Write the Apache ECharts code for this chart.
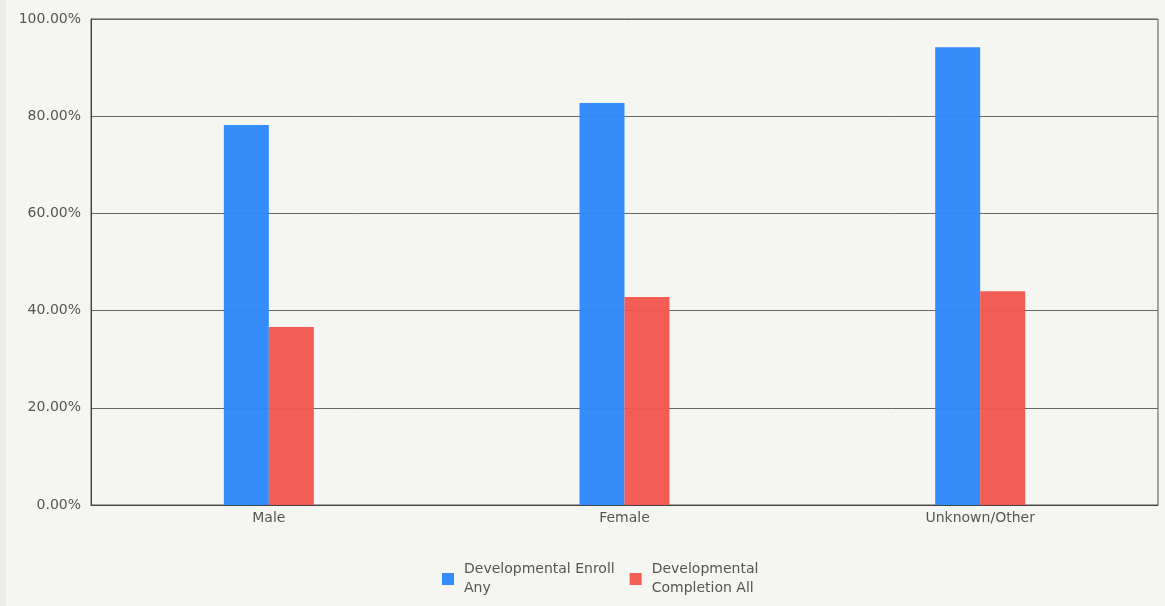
<!DOCTYPE html>
<html>
<head>
<meta charset="utf-8">
<script src="https://cdn.jsdelivr.net/npm/echarts@6/dist/echarts.min.js"></script>
<style>
html,body{margin:0;padding:0;background:#ebebeb;width:1165px;height:606px;overflow:hidden;}
#c{position:absolute;left:6px;top:0;width:1159px;height:606px;background:#f5f5f1;}
</style>
</head>
<body>
<div id="c"></div>
<script>
const categories = ['Male', 'Female', 'Unknown/Other'];
const enrollAny = [78.2, 82.7, 94.2];
const completionAll = [36.6, 42.8, 44.0];
const seriesNames = ['Developmental Enroll\nAny', 'Developmental\nCompletion All'];

const chart = echarts.init(document.getElementById('c'));
const font = '"DejaVu Sans", sans-serif';
chart.setOption({
  backgroundColor: '#f5f5f1',
  animation: false,
  grid: {left: 85, right: 7, top: 19, bottom: 101, show: true, borderColor: '#555', borderWidth: 1, backgroundColor: 'transparent'},
  legend: {
    left: 431, top: 555, itemWidth: 12, itemHeight: 12, itemGap: 15, icon: 'rect',
    textStyle: {fontFamily: font, fontSize: 14, color: '#555', lineHeight: 19, padding: [0, 0, 0, 5]},
    data: seriesNames
  },
  xAxis: {
    type: 'category', data: categories,
    axisLine: {lineStyle: {color: '#444', width: 1}},
    axisTick: {show: false},
    axisLabel: {fontFamily: font, fontSize: 14, color: '#555', margin: 6}
  },
  yAxis: {
    type: 'value', min: 0, max: 100, interval: 20,
    axisLine: {show: true, lineStyle: {color: '#444'}},
    axisTick: {show: false},
    splitLine: {lineStyle: {color: '#666', width: 1}},
    axisLabel: {fontFamily: font, fontSize: 14, color: '#555', margin: 10, padding: [0, 0, 5, 0],
      formatter: v => v.toFixed(2) + '%'}
  },
  series: [
    {name: seriesNames[0], type: 'bar', data: enrollAny, barWidth: 45, barGap: '0%', z: 1,
      itemStyle: {color: '#2e88fb', opacity: 0.97}},
    {name: seriesNames[1], type: 'bar', data: completionAll, barWidth: 45, z: 1,
      itemStyle: {color: '#f2594f', opacity: 0.97}}
  ]
});
</script>
</body>
</html>
